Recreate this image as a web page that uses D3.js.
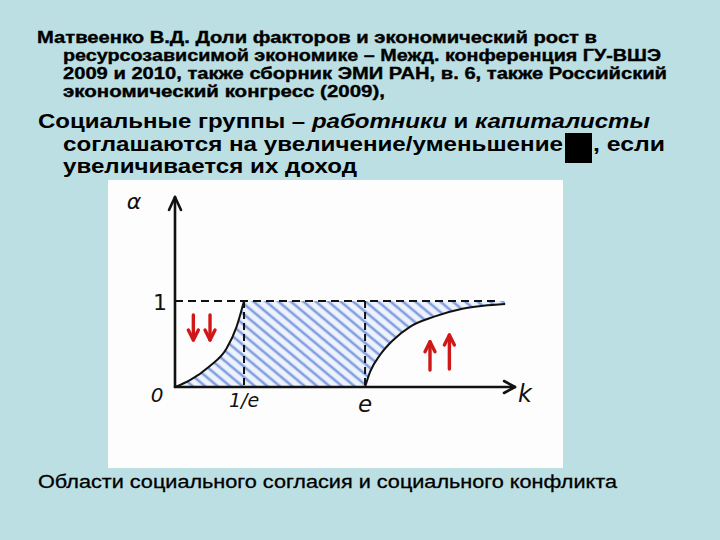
<!DOCTYPE html>
<html><head><meta charset="utf-8">
<script src="https://cdn.jsdelivr.net/npm/d3@7"></script>
<style>html,body{margin:0;padding:0;background:#bbdfe3;}</style>
</head><body>
<script>
// ---- data ----
const titleLines = [
  "Матвеенко В.Д. Доли факторов и экономический рост в",
  "ресурсозависимой экономике – Межд. конференция ГУ-ВШЭ",
  "2009 и 2010, также сборник ЭМИ РАН, в. 6, также Российский",
  "экономический конгресс (2009),"
];
const subtitle1 = [["Социальные группы – ", "normal"], ["работники", "italic"], [" и ", "normal"], ["капиталисты", "italic"]];
const subtitle2a = "соглашаются на увеличение/уменьшение";
const subtitle2b = ", если";
const subtitle3 = "увеличивается их доход";
const caption = "Области социального согласия и социального конфликта";

// schematic k axis (0..100), alpha axis (0..1)
const kOneOverE = 20.3, kE = 55.9;
const xTickValues = [kOneOverE, kE];
const xTickLabels = ["1/e", "e"];
const yTickValues = [0, 1];
const yTickLabels = ["0", "1"];
const leftK = [0, 4.4, 10, 15.2, 18.1, 20.3];
const leftA = [0, 0.08, 0.236, 0.45, 0.70, 1.0];
const rightK = [55.9, 57.4, 60.3, 64.2, 69.1, 76.0, 84.5, 90.7, 97.1];
const rightA = [0, 0.178, 0.372, 0.547, 0.70, 0.815, 0.91, 0.945, 0.965];
const dashEndK = 95.6;
const downArrowsK = [5.4, 10.3];
const downArrowsA = [[0.837, 0.547], [0.837, 0.547]];
const upArrowsK = [75.0, 80.7];
const upArrowsA = [[0.198, 0.527], [0.21, 0.605]];

// ---- drawing ----
const W = 720, H = 540;
const svg = d3.select("body").append("svg").attr("width", W).attr("height", H)
  .style("display", "block");
svg.append("rect").attr("width", W).attr("height", H).attr("fill", "#bbdfe3");

const font = "'Liberation Sans', Arial, sans-serif";
// title
const tl = [[37, 43.3, 597], [63, 61, 661], [63, 79, 667], [63, 96.7, 385]];
titleLines.forEach((t, i) => {
  svg.append("text").attr("x", tl[i][0]).attr("y", tl[i][1])
    .attr("font-family", font).attr("font-weight", "bold").attr("font-size", 16)
    .attr("stroke", "#000").attr("stroke-width", 0.35)
    .attr("textLength", tl[i][2] - tl[i][0]).attr("lengthAdjust", "spacingAndGlyphs")
    .attr("fill", "#000").text(t);
});
// subtitle
const s1 = svg.append("text").attr("x", 38).attr("y", 127.7)
  .attr("font-family", font).attr("font-weight", "bold").attr("font-size", 20.5)
  .attr("textLength", 650 - 38).attr("lengthAdjust", "spacingAndGlyphs");
subtitle1.forEach(p => s1.append("tspan").attr("font-style", p[1]).text(p[0]));
svg.append("text").attr("x", 63).attr("y", 151)
  .attr("font-family", font).attr("font-weight", "bold").attr("font-size", 20.5)
  .attr("textLength", 563 - 63).attr("lengthAdjust", "spacingAndGlyphs").text(subtitle2a);
svg.append("rect").attr("x", 565).attr("y", 133).attr("width", 27).attr("height", 30).attr("fill", "#000");
svg.append("text").attr("x", 593).attr("y", 151)
  .attr("font-family", font).attr("font-weight", "bold").attr("font-size", 20.5)
  .attr("textLength", 665 - 593).attr("lengthAdjust", "spacingAndGlyphs").text(subtitle2b);
svg.append("text").attr("x", 63).attr("y", 173.3)
  .attr("font-family", font).attr("font-weight", "bold").attr("font-size", 20.5)
  .attr("textLength", 357 - 63).attr("lengthAdjust", "spacingAndGlyphs").text(subtitle3);
// caption
svg.append("text").attr("x", 38).attr("y", 488)
  .attr("font-family", font).attr("font-size", 18.5)
  .attr("stroke", "#000").attr("stroke-width", 0.3)
  .attr("textLength", 617 - 38).attr("lengthAdjust", "spacingAndGlyphs").text(caption);

// white panel
svg.append("rect").attr("x", 108).attr("y", 180).attr("width", 455).attr("height", 288).attr("fill", "#fdfdfd");

const x = d3.scaleLinear().domain([0, 100]).range([175, 515]);
const y = d3.scaleLinear().domain([0, 1]).range([387, 301]);
const yTop = 2.21;

// hatch pattern
const defs = svg.append("defs");
const pat = defs.append("pattern").attr("id", "hatch").attr("patternUnits", "userSpaceOnUse")
  .attr("width", 8).attr("height", 8).attr("patternTransform", "rotate(40)");
pat.append("rect").attr("width", 8).attr("height", 8).attr("fill", "#edf2fb");
pat.append("line").attr("x1", 0).attr("x2", 8).attr("y1", 4).attr("y2", 4)
  .attr("stroke", "#6f8fdc").attr("stroke-width", 2.6).attr("stroke-opacity", 0.85);

const line = d3.line().x(d => x(d[0])).y(d => y(d[1])).curve(d3.curveMonotoneX);
const leftPts = leftK.map((k, i) => [k, leftA[i]]);
const rightPts = rightK.map((k, i) => [k, rightA[i]]);

// shaded region: under left curve, full band between, above right curve
const lastRight = rightPts[rightPts.length - 1];
let pathD = line(leftPts) + "L" + x(lastRight[0]) + "," + y(1);
pathD += "L" + line(rightPts.slice().reverse()).slice(1);
pathD += "L" + x(0) + "," + y(0) + "Z";
svg.append("path").attr("d", pathD).attr("fill", "url(#hatch)");

// dashed lines
svg.append("line").attr("x1", x(0)).attr("x2", x(dashEndK)).attr("y1", y(1)).attr("y2", y(1))
  .attr("stroke", "#111").attr("stroke-width", 2).attr("stroke-dasharray", "8,5");
xTickValues.forEach(k => {
  svg.append("line").attr("x1", x(k)).attr("x2", x(k)).attr("y1", y(1)).attr("y2", y(0))
    .attr("stroke", "#111").attr("stroke-width", 2).attr("stroke-dasharray", "7,4");
});

// curves
svg.append("path").attr("d", line(leftPts)).attr("fill", "none").attr("stroke", "#111").attr("stroke-width", 2);
svg.append("path").attr("d", line(rightPts)).attr("fill", "none").attr("stroke", "#111").attr("stroke-width", 2);

// axes
const ax = svg.append("g").attr("stroke", "#111").attr("stroke-width", 2.6).attr("fill", "none")
  .attr("stroke-linecap", "round").attr("stroke-linejoin", "round");
ax.append("line").attr("x1", x(0)).attr("x2", x(0)).attr("y1", y(0)).attr("y2", y(yTop));
ax.append("path").attr("d", `M${x(0) - 6},${y(yTop) + 13}L${x(0)},${y(yTop)}L${x(0) + 6},${y(yTop) + 13}`);
ax.append("line").attr("x1", x(0)).attr("x2", x(100)).attr("y1", y(0)).attr("y2", y(0));
ax.append("path").attr("d", `M${x(100) - 11},${y(0) - 6}L${x(100)},${y(0)}L${x(100) - 11},${y(0) + 6}`);

// labels (hand-drawn style)
const lab = (t, px, py, fs, st) => svg.append("text").attr("x", px).attr("y", py).attr("text-anchor", "middle")
  .attr("font-family", "'DejaVu Sans', sans-serif").attr("font-style", st || "italic").attr("font-size", fs)
  .attr("fill", "#111").text(t);
lab("α", 134, 209, 22);
lab("k", 525, 402, 24);
lab(yTickLabels[1], x(0) - 15, y(1) + 9, 22, "normal");
lab(yTickLabels[0], x(0) - 18, y(0) + 15, 20);
lab(xTickLabels[0], x(xTickValues[0]), y(0) + 20, 19);
lab(xTickLabels[1], x(xTickValues[1]), y(0) + 25, 23);

// red arrows
const red = "#d01818";
const arrow = (k, a0, a1) => {
  const g = svg.append("g").attr("stroke", red).attr("stroke-width", 3.4).attr("fill", "none")
    .attr("stroke-linecap", "round").attr("stroke-linejoin", "round");
  const px = x(k), y0 = y(a0), y1 = y(a1);
  const dir = y1 > y0 ? 1 : -1;
  g.append("line").attr("x1", px).attr("x2", px).attr("y1", y0).attr("y2", y1);
  g.append("path").attr("d", `M${px - 5},${y1 - dir * 10}L${px},${y1}L${px + 5},${y1 - dir * 10}`);
};
downArrowsK.forEach((k, i) => arrow(k, downArrowsA[i][0], downArrowsA[i][1]));
upArrowsK.forEach((k, i) => arrow(k, upArrowsA[i][0], upArrowsA[i][1]));
</script>
</body></html>
